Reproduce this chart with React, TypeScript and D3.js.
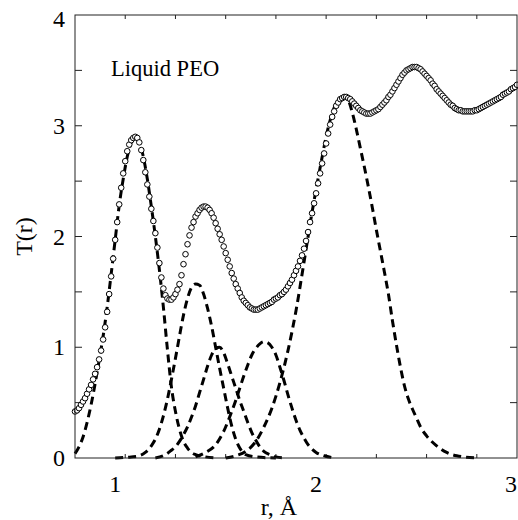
import React from 'react';
import * as d3 from 'd3';

// Experimental T(r), sampled every 0.01 Å from 0.80 to 3.00
const rStart = 0.8;
const rStep = 0.01;
const tValues = [
  0.42, 0.43, 0.45, 0.48, 0.51, 0.54, 0.58, 0.62, 0.66, 0.71,
  0.76, 0.82, 0.89, 0.97, 1.07, 1.18, 1.32, 1.48, 1.64, 1.80,
  1.97, 2.13, 2.29, 2.44, 2.57, 2.68, 2.77, 2.83, 2.87, 2.89,
  2.90, 2.89, 2.85, 2.78, 2.69, 2.58, 2.47, 2.36, 2.25, 2.14,
  2.03, 1.90, 1.76, 1.63, 1.53, 1.47, 1.44, 1.43, 1.43, 1.45,
  1.48, 1.52, 1.57, 1.65, 1.75, 1.84, 1.93, 2.01, 2.08, 2.13,
  2.18, 2.21, 2.24, 2.26, 2.27, 2.27, 2.26, 2.24, 2.21, 2.17,
  2.12, 2.07, 2.02, 1.97, 1.91, 1.85, 1.79, 1.73, 1.67, 1.62,
  1.57, 1.53, 1.49, 1.45, 1.42, 1.40, 1.38, 1.36, 1.35, 1.34,
  1.34, 1.34, 1.35, 1.36, 1.37, 1.38, 1.39, 1.40, 1.41, 1.43,
  1.44, 1.45, 1.47, 1.48, 1.50, 1.52, 1.55, 1.58, 1.61, 1.65,
  1.69, 1.73, 1.78, 1.83, 1.89, 1.96, 2.04, 2.13, 2.21, 2.30,
  2.39, 2.48, 2.57, 2.66, 2.75, 2.84, 2.93, 3.01, 3.08, 3.13,
  3.18, 3.21, 3.24, 3.25, 3.26, 3.26, 3.25, 3.24, 3.22, 3.20,
  3.18, 3.16, 3.14, 3.13, 3.12, 3.11, 3.11, 3.11, 3.12, 3.13,
  3.14, 3.15, 3.17, 3.19, 3.21, 3.23, 3.26, 3.28, 3.31, 3.34,
  3.37, 3.40, 3.43, 3.46, 3.48, 3.50, 3.51, 3.52, 3.53, 3.53,
  3.53, 3.52, 3.51, 3.49, 3.47, 3.45, 3.43, 3.41, 3.38, 3.36,
  3.33, 3.31, 3.29, 3.27, 3.25, 3.23, 3.21, 3.19, 3.18, 3.16,
  3.15, 3.14, 3.14, 3.13, 3.13, 3.13, 3.13, 3.13, 3.13, 3.14,
  3.14, 3.15, 3.16, 3.17, 3.18, 3.19, 3.20, 3.21, 3.22, 3.23,
  3.24, 3.25, 3.26, 3.28, 3.29, 3.30, 3.31, 3.33, 3.34, 3.35,
  3.37,
];

// Fitted peak components (dashed)
const peak1R = [0.80, 0.82, 0.84, 0.86, 0.88, 0.90, 0.92, 0.94, 0.96, 0.98, 1.00, 1.02, 1.04, 1.06, 1.08, 1.10, 1.12, 1.14, 1.16, 1.18, 1.20, 1.22, 1.24, 1.26, 1.28, 1.30, 1.32, 1.34, 1.36, 1.38, 1.40, 1.45, 1.50];
const peak1T = [0.04, 0.10, 0.19, 0.32, 0.48, 0.67, 0.88, 1.10, 1.36, 1.66, 1.97, 2.28, 2.52, 2.72, 2.85, 2.90, 2.86, 2.72, 2.52, 2.27, 2.00, 1.70, 1.36, 0.98, 0.64, 0.42, 0.26, 0.15, 0.09, 0.05, 0.03, 0.01, 0.00];

const peak2R = [1.00, 1.08, 1.12, 1.15, 1.18, 1.20, 1.22, 1.24, 1.26, 1.28, 1.30, 1.32, 1.34, 1.36, 1.38, 1.40, 1.42, 1.44, 1.46, 1.48, 1.50, 1.52, 1.54, 1.56, 1.58, 1.60, 1.62, 1.65, 1.70, 1.80];
const peak2T = [0.00, 0.01, 0.02, 0.05, 0.11, 0.17, 0.26, 0.38, 0.53, 0.71, 0.90, 1.10, 1.29, 1.44, 1.54, 1.57, 1.56, 1.48, 1.35, 1.19, 1.00, 0.81, 0.63, 0.45, 0.29, 0.17, 0.09, 0.03, 0.01, 0.00];

const peak3R = [1.20, 1.25, 1.28, 1.30, 1.32, 1.34, 1.36, 1.38, 1.40, 1.42, 1.44, 1.46, 1.48, 1.50, 1.52, 1.54, 1.56, 1.58, 1.60, 1.62, 1.64, 1.66, 1.68, 1.70, 1.72, 1.74, 1.77, 1.80, 1.85];
const peak3T = [0.00, 0.03, 0.07, 0.10, 0.15, 0.21, 0.28, 0.37, 0.47, 0.59, 0.71, 0.83, 0.93, 0.99, 1.00, 0.95, 0.85, 0.74, 0.63, 0.52, 0.42, 0.32, 0.23, 0.16, 0.10, 0.06, 0.03, 0.01, 0.00];

const peak4R = [1.40, 1.45, 1.50, 1.54, 1.58, 1.60, 1.62, 1.64, 1.66, 1.68, 1.70, 1.72, 1.74, 1.76, 1.78, 1.80, 1.82, 1.84, 1.86, 1.88, 1.90, 1.92, 1.94, 1.96, 1.98, 2.00, 2.04, 2.10];
const peak4T = [0.01, 0.05, 0.12, 0.24, 0.42, 0.52, 0.63, 0.74, 0.84, 0.93, 0.99, 1.03, 1.05, 1.04, 1.00, 0.93, 0.82, 0.70, 0.57, 0.45, 0.34, 0.25, 0.18, 0.12, 0.08, 0.05, 0.02, 0.00];

const peak5R = [1.55, 1.60, 1.65, 1.70, 1.74, 1.78, 1.82, 1.86, 1.90, 1.94, 1.98, 2.02, 2.06, 2.10, 2.14, 2.16, 2.18, 2.20, 2.22, 2.24, 2.26, 2.28, 2.30, 2.32, 2.34, 2.36, 2.38, 2.40, 2.42, 2.44, 2.46, 2.48, 2.50, 2.52, 2.55, 2.60, 2.65, 2.70, 2.80];
const peak5T = [0.00, 0.02, 0.06, 0.15, 0.28, 0.45, 0.68, 0.97, 1.33, 1.77, 2.22, 2.62, 2.98, 3.20, 3.26, 3.23, 3.12, 2.97, 2.80, 2.63, 2.45, 2.26, 2.06, 1.87, 1.68, 1.48, 1.24, 1.02, 0.82, 0.65, 0.53, 0.44, 0.36, 0.28, 0.20, 0.11, 0.05, 0.02, 0.00];

const xTickLabels = [1, 2, 3];
const yTickLabels = [0, 1, 2, 3, 4];
const xTitle = 'r, Å';
const yTitle = 'T(r)';
const annotation = 'Liquid PEO';

const FAM = 'Liberation Serif';

export default function App() {
  const W = 518;
  const H = 520;
  const x = d3.scaleLinear().domain([0.8, 3]).range([75, 517]);
  const y = d3.scaleLinear().domain([0, 4]).range([458, 15]);

  const line = d3
    .line<[number, number]>()
    .x((d) => x(d[0]))
    .y((d) => y(d[1]))
    .curve(d3.curveMonotoneX);

  const peaks = [
    [peak1R, peak1T],
    [peak2R, peak2T],
    [peak3R, peak3T],
    [peak4R, peak4T],
    [peak5R, peak5T],
  ];

  const data = tValues.map((t, i) => [rStart + i * rStep, t] as [number, number]);

  const xMinor = d3.range(0.8, 3.001, 0.25).filter((v) => v > 0.81 && v < 2.99);
  const yMinor = d3.range(0.5, 4, 0.5);

  const [x0, x1] = x.range();
  const [yb, yt] = y.range();

  return (
    <svg
      width={W}
      height={H}
      style={{ position: 'absolute', left: 0, top: 0, background: '#fff' }}
    >
      <style>{`text.lbl { font-family: "Liberation Serif"; }`}</style>
      <rect x={0} y={0} width={W} height={H} fill="#fff" />
      {/* ticks */}
      <g stroke="#222" strokeWidth={1}>
        {xMinor.map((v, i) => {
          const major = Math.abs(v * 2 - Math.round(v * 2)) < 1e-6;
          const len = major ? 7 : 4;
          return (
            <g key={'xt' + i}>
              <line x1={x(v)} x2={x(v)} y1={yb} y2={yb - len} />
              <line x1={x(v)} x2={x(v)} y1={yt} y2={yt + len} />
            </g>
          );
        })}
        {yMinor.map((v, i) => (
          <g key={'yt' + i}>
            <line x1={x0} x2={x0 + 7} y1={y(v)} y2={y(v)} />
            <line x1={x1} x2={x1 - 7} y1={y(v)} y2={y(v)} />
          </g>
        ))}
      </g>

      {/* dashed component peaks */}
      <g fill="none" stroke="#000" strokeWidth={3} strokeDasharray="8 5">
        {peaks.map(([rs, ts], i) => (
          <path key={'p' + i} d={line(rs.map((r, j) => [r, ts[j]] as [number, number])) || ''} />
        ))}
      </g>

      {/* experimental points */}
      <g fill="#fff" stroke="#000" strokeWidth={1}>
        {data.map((d, i) => (
          <circle key={'c' + i} cx={x(d[0])} cy={y(d[1])} r={2.8} />
        ))}
      </g>

      {/* frame */}
      <rect x={x0} y={yt} width={x1 - x0} height={yb - yt} fill="none" stroke="#222" strokeWidth={1} />

      {/* tick labels */}
      {xTickLabels.map((v) => (
        <text key={'xl' + v} className="lbl" fontFamily={FAM} fontSize={24} x={Math.min(x(v), 511)} y={yb + 34} textAnchor="middle">
          {v}
        </text>
      ))}
      {yTickLabels.map((v) => (
        <text key={'yl' + v} className="lbl" fontFamily={FAM} fontSize={24} x={65} y={Math.max(y(v), 19) + 8} textAnchor="end">
          {v}
        </text>
      ))}

      <text className="lbl" fontFamily={FAM} x={279} y={515} textAnchor="middle" fontSize={24}>
        {xTitle}
      </text>
      <text
        className="lbl"
        fontFamily={FAM}
        transform={`translate(32, ${y(2)}) rotate(-90)`}
        textAnchor="middle"
        fontSize={24}
      >
        {yTitle}
      </text>
      <text className="lbl" fontFamily={FAM} x={111} y={76} fontSize={22.5}>
        {annotation}
      </text>
    </svg>
  );
}
